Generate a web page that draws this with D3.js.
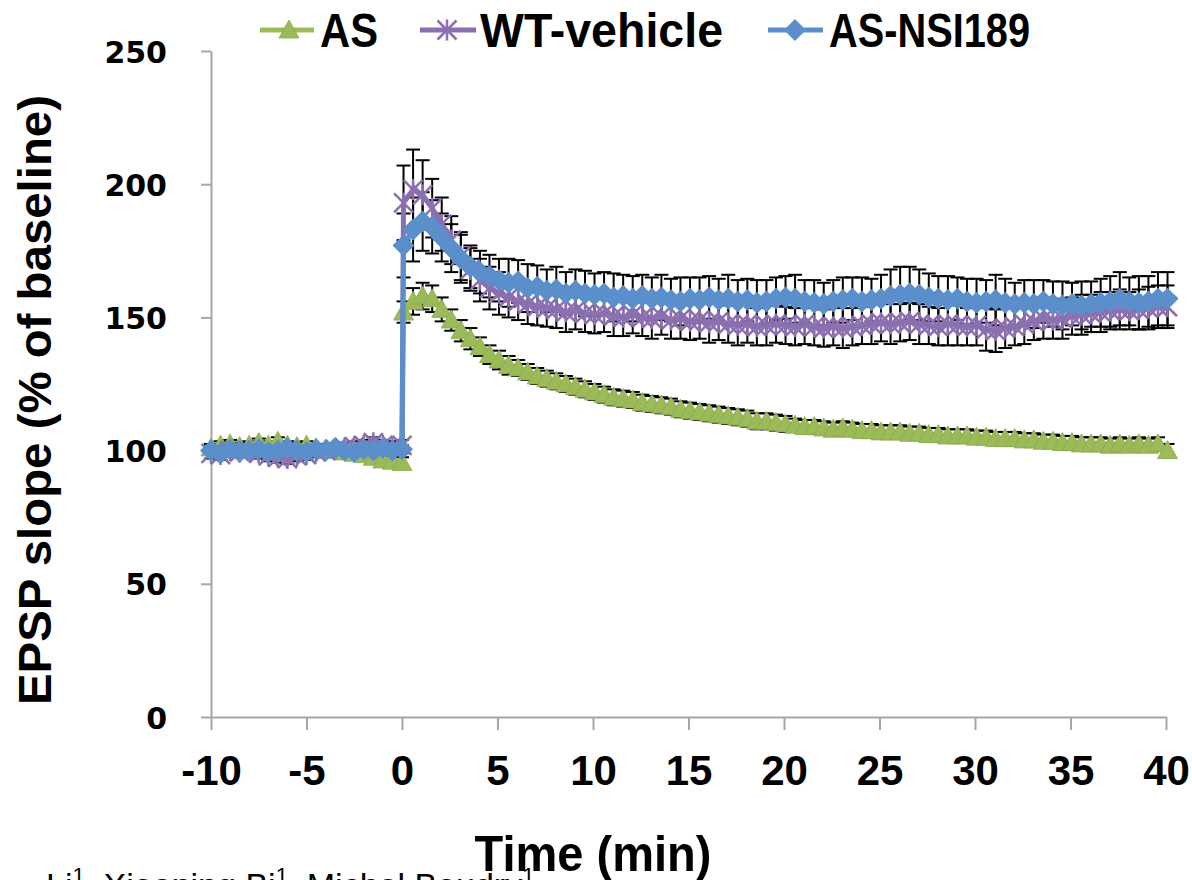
<!DOCTYPE html>
<html><head><meta charset="utf-8">
<script src="https://cdn.jsdelivr.net/npm/d3@7"></script>
<style>body{margin:0;background:#fff}svg{display:block}</style>
</head><body><svg id="c" width="1192" height="880"></svg>
<script>
const seriesNames = ["AS", "WT-vehicle", "AS-NSI189"];
const seriesColors = ["#9BBB59", "#8B6FB0", "#5B8FCB"];
const xTicks = [-10, -5, 0, 5, 10, 15, 20, 25, 30, 35, 40];
const yTicks = [0, 50, 100, 150, 200, 250];
const baseTimes = d3.range(-10, 0.001, 0.5);      // 21 baseline sweeps
const postTimes = d3.range(0, 40.001, 0.5).map(t => t + 0.08); // 81 post-HFS sweeps

const asBase = [101,102,102.5,101.5,102,103,102,103.5,102,101.5,102,101,100.5,100,99.5,99,98.5,97.5,96.5,96,95.5];
const asPost = [
152,156,158,157,153,149,145,142,139,136,
134,132,131,129.5,128,127,126,125,124,123,
122,121,120,119.5,119,118,117.5,117,116.5,115.5,
115,114.5,114,113.5,113,112.5,112,111,111,110.5,
110,109.5,109,109,108.5,108,108.5,108,107.5,107.5,
107,107,107,106.5,106.5,106,106,105.5,105.5,105.5,
105,105,104.5,104.5,104.5,104,104,103.5,103.5,103,
103,102.5,102.5,102.5,102,102.5,102,102.5,102,102.5,
100];
const asBaseErr = [1.5,1.5,1.5,1.5,1.5,1.5,1.5,1.5,1.5,1.5,1.5,1.5,1.5,1.5,1.5,1.5,1.5,1.5,2,2,2];
const asPostErr = [
4,5,5,5,4.5,4,4,4,3.5,3.5,
3.5,3.5,3,3,3,3,3,3,3,3,
3,3,3,3,3,3,3,3,3,3,
3,3,3,3,3,3,3,3,3,3,
3,2.5,2.5,2.5,2.5,2.5,2.5,2.5,2.5,2.5,
2.5,2.5,2.5,2.5,2.5,2.5,2.5,2.5,2.5,2.5,
2.5,2.5,2.5,2.5,2.5,2.5,2.5,2.5,2.5,2.5,
2.5,2.5,2.5,2.5,2.5,2.5,2.5,2.5,2.5,2.5,
2.5];

const wtBase = [99,98.5,100,99.5,100,99,98,97.5,97,98,98.5,99.5,100,100.5,101,101.5,102,103,102,101.5,102];
const wtPost = [
193,198,196,191,185,179,173,168,164,161,
159,157.5,156,155,154,153.5,153,152,152.5,151.5,
151,151.5,150.5,150,151,150,149.5,150.5,149,149.5,
148.5,149,148,148.5,147.5,147,147.5,146.5,147,147.5,
147,146.5,147.5,146.5,146,146.5,146,146.5,147,147.5,
148,147.5,148,148.5,147.5,147,146.5,147.5,147,146.5,
147,145.5,145,146,146.5,147.5,148.5,149.5,149,149.5,
150.5,151,151.5,152,152.5,153,152.5,153,153.5,154,
154];
const wtBaseErr = [2,2,2,2,2,2,2,2,2,2,2,2,2,2,2,2,2,2,2,2,2];
const wtPostErr = [
14,15,13,11,10,9,9,8,8,8,
8,7.5,7,7.5,7,7,7,7.5,7,7,
7,7,7.5,7,7,7,7.5,7,7,7.5,
7,7,7.5,7,7,7.5,7,7,7.5,7,
7,7,7.5,7,7,7,7.5,7,7,7.5,
7,7.5,7,7,7.5,7,7,8,7.5,7,
7.5,8,8,7.5,7,7.5,7,7.5,7,7.5,
7,7.5,7,7.5,7,7.5,7,7.5,8,8,
8];

const nsiBase = [100,99,100.5,99.5,100,100.5,99.5,100,101,100,99.5,100.5,100,101,100,99.5,100.5,100,101,100,100.5];
const nsiPost = [
177,183,186,184,180,176,172,169,167,165.5,
164,163,163.5,161,161.5,160,160.5,159,160,159,
158.5,159,157.5,158,157,158,157,157.5,156.5,156,
157,156.5,157.5,156.5,157,156,156.5,155.5,156,157,
157.5,157,156,155.5,155,156,156.5,157,156,156.5,
157,158,158.5,159,158.5,157.5,157,156.5,157,156,
155.5,156,156.5,155.5,155,155.5,155,156,155,154.5,
155,154.5,155,155.5,156,157,156,155.5,156,157,
157];
const nsiBaseErr = [1.5,1.5,1.5,1.5,1.5,1.5,1.5,1.5,1.5,1.5,1.5,1.5,1.5,1.5,1.5,1.5,1.5,1.5,1.5,1.5,1.5];
const nsiPostErr = [
12,12,11,10,9,9,9,8,8,8,
8,9,8,9,8,8,8.5,8,8,8.5,
8,8,9,8,8.5,8,8,8.5,8,9,
8,8.5,8,8,9,8,8,8.5,8,8,
8,9,8,8.5,8,8,8.5,8,9,8,
9,10,10.5,10,9.5,9,8.5,9,8,8.5,
9,8,9.5,9,8,8.5,9,8,8.5,9,
8,9,8.5,9,9.5,10,9,10,9.5,10,
10];

// author line (partly cut off at the bottom edge in the source image)
const authorNames = ["Li", "Xiaoning Bi", "Michel Baudry"];
const authorSup = "1";

function build(base, post, bErr, pErr) {
  return baseTimes.map((t, i) => ({t, v: base[i], e: bErr[i]}))
    .concat(postTimes.map((t, i) => ({t, v: post[i], e: pErr[i]})));
}
const series = [
  {name: seriesNames[0], color: seriesColors[0], marker: "triangle", pts: build(asBase, asPost, asBaseErr, asPostErr)},
  {name: seriesNames[1], color: seriesColors[1], marker: "star", pts: build(wtBase, wtPost, wtBaseErr, wtPostErr)},
  {name: seriesNames[2], color: seriesColors[2], marker: "diamond", pts: build(nsiBase, nsiPost, nsiBaseErr, nsiPostErr)}
];

const svg = d3.select("#c");
const x = d3.scaleLinear().domain([-10, 40]).range([211, 1166]);
const y = d3.scaleLinear().domain([0, 250]).range([717, 51]);
const axisColor = "#a6a6a6";

// axes
const gy = svg.append("g").attr("transform", `translate(${x(-10)},0)`)
  .call(d3.axisLeft(y).tickValues(yTicks).tickSize(10).tickSizeOuter(0).tickFormat(d => String(d)));
gy.select(".domain").attr("stroke", axisColor).attr("stroke-width", 2);
gy.selectAll(".tick line").attr("stroke", axisColor).attr("stroke-width", 2);
gy.selectAll(".tick text").attr("x", -44).attr("dy", "0.37em")
  .attr("font-family", "'DejaVu Sans', Verdana, sans-serif").attr("font-weight", "bold")
  .attr("font-size", 30).attr("fill", "#000");

const gx = svg.append("g").attr("transform", `translate(0,${y(0)})`)
  .call(d3.axisBottom(x).tickValues(xTicks).tickSize(13).tickSizeOuter(0).tickFormat(d => String(d)));
gx.select(".domain").attr("stroke", axisColor).attr("stroke-width", 2);
gx.selectAll(".tick line").attr("stroke", axisColor).attr("stroke-width", 2);
gx.selectAll(".tick text").attr("y", 68).attr("dy", null)
  .attr("font-family", "'Liberation Sans', Arial, sans-serif").attr("font-weight", "bold")
  .attr("font-size", 42).attr("fill", "#000");

// error bars (behind)
const capW = 7;
series.forEach(s => {
  const g = svg.append("g").attr("stroke", "#000").attr("stroke-width", 2);
  s.pts.forEach(p => {
    const x0 = x(p.t), y1 = y(p.v + p.e), y2 = y(p.v - p.e);
    g.append("line").attr("x1", x0).attr("x2", x0).attr("y1", y1).attr("y2", y2);
    g.append("line").attr("x1", x0 - capW).attr("x2", x0 + capW).attr("y1", y1).attr("y2", y1);
    g.append("line").attr("x1", x0 - capW).attr("x2", x0 + capW).attr("y1", y2).attr("y2", y2);
  });
});

function drawMarker(g, type, cx, cy, color, sc = 1) {
  if (type === "triangle") {
    g.append("path").attr("d", `M${cx},${cy - 10 * sc}L${cx + 10 * sc},${cy + 8 * sc}L${cx - 10 * sc},${cy + 8 * sc}Z`)
      .attr("fill", color).attr("stroke", d3.color(color).darker(0.3)).attr("stroke-width", 0.8);
  } else if (type === "diamond") {
    g.append("path").attr("d", `M${cx},${cy - 11 * sc}L${cx + 11 * sc},${cy}L${cx},${cy + 11 * sc}L${cx - 11 * sc},${cy}Z`)
      .attr("fill", color);
  } else {
    const r = 9.5 * sc;
    g.append("path").attr("d", `M${cx - r},${cy - r}L${cx + r},${cy + r}M${cx - r},${cy + r}L${cx + r},${cy - r}M${cx},${cy - r * 1.1}L${cx},${cy + r * 1.1}`)
      .attr("stroke", color).attr("stroke-width", 2.5).attr("fill", "none");
  }
}

const line = d3.line().x(d => x(d.t)).y(d => y(d.v));
series.forEach(s => {
  const g = svg.append("g");
  g.append("path").datum(s.pts).attr("d", line).attr("fill", "none")
    .attr("stroke", s.color).attr("stroke-width", 5).attr("stroke-linejoin", "round");
  s.pts.forEach(p => drawMarker(g, s.marker, x(p.t), y(p.v), s.color));
});

// legend
const legendItems = [
  {lx1: 260, lx2: 314, mx: 289, tx: 320, tw: 58},
  {lx1: 420, lx2: 476, mx: 447, tx: 480, tw: 243},
  {lx1: 768, lx2: 823, mx: 795, tx: 829, tw: 201}
];
series.forEach((s, i) => {
  const L = legendItems[i];
  const g = svg.append("g");
  g.append("line").attr("x1", L.lx1).attr("x2", L.lx2).attr("y1", 30).attr("y2", 30)
    .attr("stroke", s.color).attr("stroke-width", 5);
  drawMarker(g, s.marker, L.mx, 30, s.color, 1);
  g.append("text").attr("x", L.tx).attr("y", 47).text(s.name)
    .attr("font-family", "'Liberation Sans', Arial, sans-serif").attr("font-weight", "bold")
    .attr("font-size", 48).attr("textLength", L.tw).attr("lengthAdjust", "spacingAndGlyphs");
});

// axis titles
svg.append("text").attr("transform", "translate(51,400) rotate(-90)").attr("text-anchor", "middle")
  .attr("font-family", "'Liberation Sans', Arial, sans-serif").attr("font-weight", "bold")
  .attr("font-size", 46).attr("textLength", 610).attr("lengthAdjust", "spacingAndGlyphs")
  .text("EPSP slope (% of baseline)");

// author line, clipped at the very bottom as in the source image (drawn before the axis title)
const at = svg.append("text").attr("x", 46).attr("y", 897)
  .attr("font-family", "'Liberation Sans', Arial, sans-serif").attr("font-size", 34);
authorNames.forEach((n, i) => {
  at.append("tspan").attr("dy", i ? 14 : 0).text((i ? ", " : "") + n);
  at.append("tspan").attr("font-size", 22).attr("dy", -14).text(authorSup);
});

svg.append("text").attr("x", 593).attr("y", 871).attr("text-anchor", "middle")
  .attr("font-family", "'Liberation Sans', Arial, sans-serif").attr("font-weight", "bold")
  .attr("font-size", 50).attr("textLength", 237).attr("lengthAdjust", "spacingAndGlyphs")
  .text("Time (min)");
</script></body></html>
